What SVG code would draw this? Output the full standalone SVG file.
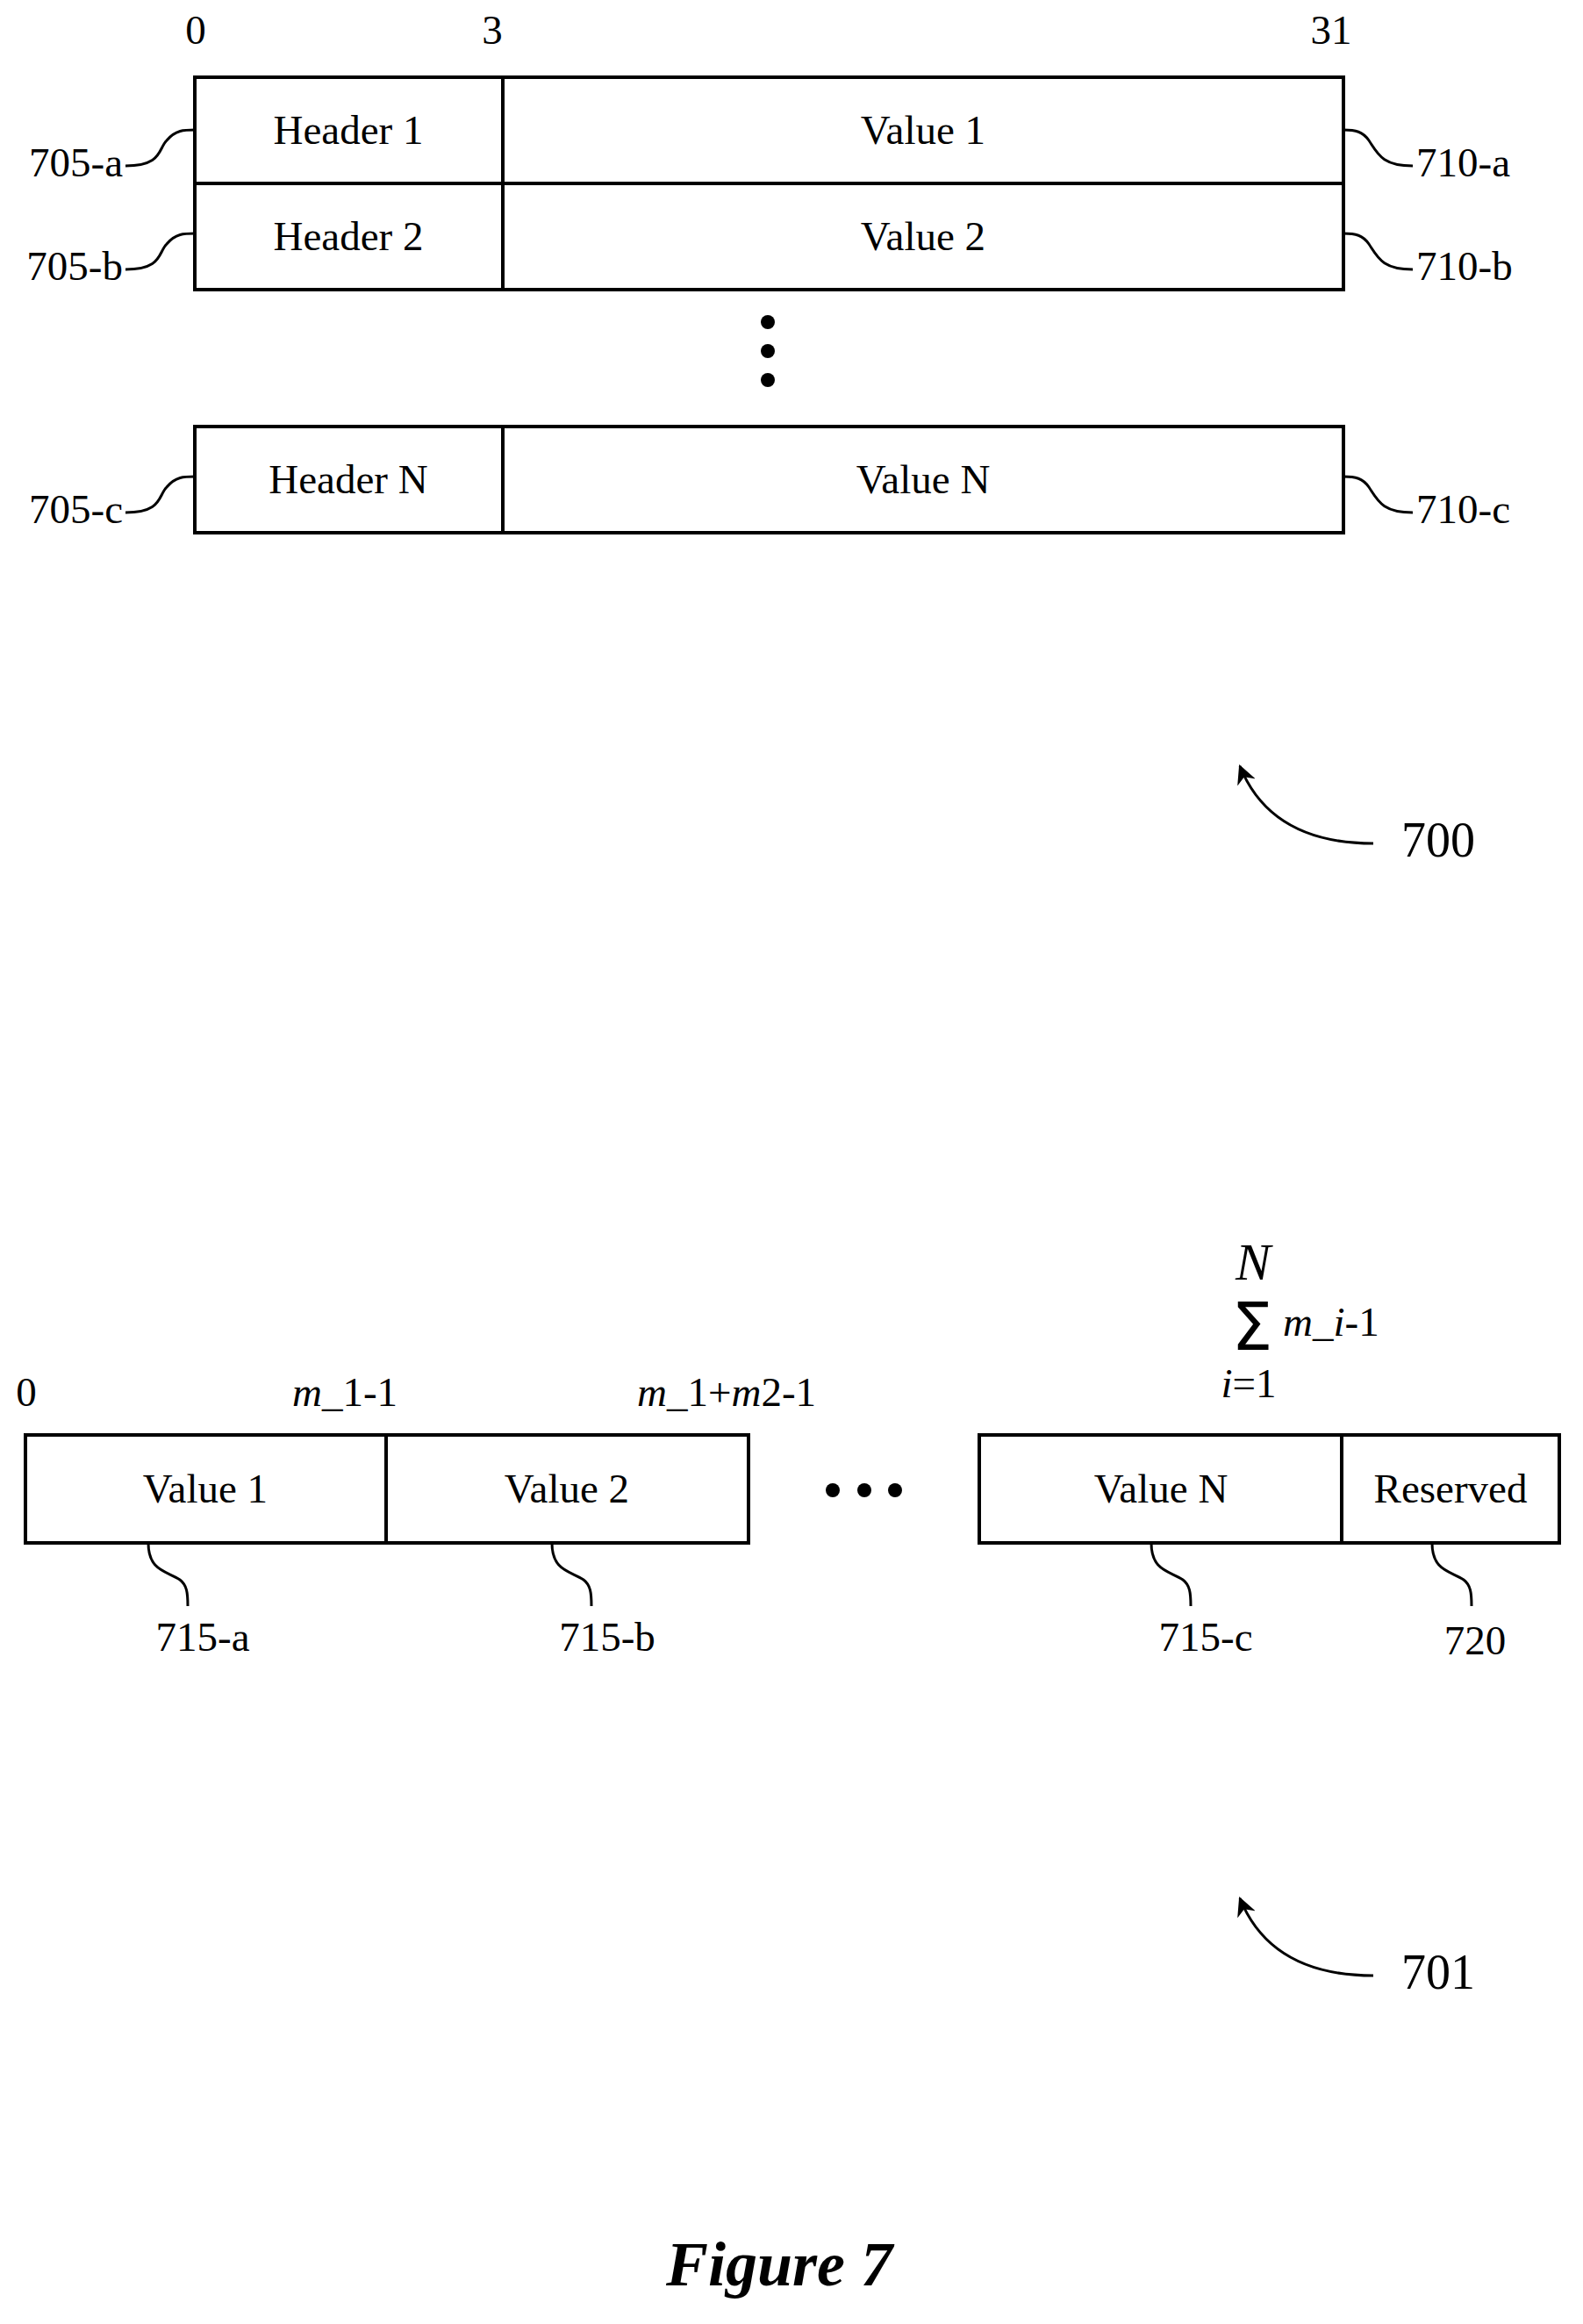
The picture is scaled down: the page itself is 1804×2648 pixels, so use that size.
<svg xmlns="http://www.w3.org/2000/svg" width="1804" height="2648" viewBox="0 0 1804 2648">
<defs>
<style>
text{font-family:"Liberation Serif",serif;font-size:47px;fill:#000}
.c{text-anchor:middle}
.b{fill:#fff;stroke:#000;stroke-width:4}
.l{fill:none;stroke:#000;stroke-width:3}
.ref{font-size:56px}
</style>
<marker id="ah" viewBox="0 0 10 10" refX="9" refY="5" markerWidth="22" markerHeight="22" orient="auto-start-reverse" markerUnits="userSpaceOnUse"><path d="M0,0L10,5L0,10L3,5Z"/></marker>
</defs>
<rect width="1804" height="2648" fill="#fff"/>
<text x="223" y="50" class="c">0</text><text x="561" y="50" class="c">3</text><text x="1517" y="50" class="c">31</text>
<g id="row1"><rect class="b" x="222" y="88" width="351" height="121"/><rect class="b" x="573" y="88" width="958" height="121"/><text x="397" y="164" class="c">Header 1</text><text x="1052" y="164" class="c">Value 1</text></g>
<g id="row2"><rect class="b" x="222" y="209" width="351" height="121"/><rect class="b" x="573" y="209" width="958" height="121"/><text x="397" y="285" class="c">Header 2</text><text x="1052" y="285" class="c">Value 2</text></g>
<g id="rowN"><rect class="b" x="222" y="486" width="351" height="121"/><rect class="b" x="573" y="486" width="958" height="121"/><text x="397" y="562" class="c">Header N</text><text x="1052" y="562" class="c">Value N</text></g>
<g id="vdots"><circle cx="875" cy="367" r="8"/><circle cx="875" cy="400" r="8"/><circle cx="875" cy="433" r="8"/></g>
<g id="connectors">
<path class="l" d="M143,189 C185,189 180,170 190,160 C200,148 210,148 222,148"/>
<path class="l" d="M143,307 C185,307 180,288 190,278 C200,266 210,266 222,266"/>
<path class="l" d="M143,584 C185,584 180,565 190,555 C200,543 210,543 222,543"/>
<path class="l" d="M1531,148 C1545,148 1553,150 1560,160 C1570,175 1575,189 1610,189"/>
<path class="l" d="M1531,266 C1545,266 1553,268 1560,278 C1570,293 1575,307 1610,307"/>
<path class="l" d="M1531,543 C1545,543 1553,545 1560,555 C1570,570 1575,584 1610,584"/>
<path class="l" d="M1565,961 C1500,961 1440,940 1413,873" marker-end="url(#ah)"/>
<path class="l" d="M1565,2251 C1500,2251 1440,2230 1413,2163" marker-end="url(#ah)"/>
<path class="l" d="M169,1758 C169,1790 190,1790 205,1800 C213,1806 214,1815 214,1830"/>
<path class="l" d="M629,1758 C629,1790 650,1790 665,1800 C673,1806 674,1815 674,1830"/>
<path class="l" d="M1312,1758 C1312,1790 1333,1790 1348,1800 C1356,1806 1357,1815 1357,1830"/>
<path class="l" d="M1632,1758 C1632,1790 1653,1790 1668,1800 C1676,1806 1677,1815 1677,1830"/>
</g>
<text x="140" y="201" text-anchor="end">705-a</text><text x="140" y="319" text-anchor="end">705-b</text><text x="140" y="596" text-anchor="end">705-c</text>
<text x="1614" y="201">710-a</text><text x="1614" y="319">710-b</text><text x="1614" y="596">710-c</text>
<text x="1597" y="976" class="ref">700</text>
<text x="30" y="1602" class="c">0</text>
<text x="393" y="1602" class="c"><tspan font-style="italic">m</tspan>_1-1</text>
<text x="828" y="1602" class="c"><tspan font-style="italic">m</tspan>_1+<tspan font-style="italic">m</tspan>2-1</text>
<text x="1428" y="1458" class="c" style="font-style:italic;font-size:60px">N</text>
<text x="1427" y="1538" class="c" style="font-size:74px;font-family:'DejaVu Sans',sans-serif">Σ</text>
<text x="1462" y="1522"><tspan font-style="italic">m</tspan>_<tspan font-style="italic">i</tspan>-1</text>
<text x="1423" y="1592" class="c"><tspan font-style="italic">i</tspan>=1</text>
<g id="b1"><rect class="b" x="29" y="1635" width="411" height="123"/><text x="234" y="1712" class="c">Value 1</text></g>
<g id="b2"><rect class="b" x="440" y="1635" width="413" height="123"/><text x="646" y="1712" class="c">Value 2</text></g>
<g id="bN"><rect class="b" x="1116" y="1635" width="413" height="123"/><text x="1323" y="1712" class="c">Value N</text></g>
<g id="bR"><rect class="b" x="1529" y="1635" width="248" height="123"/><text x="1653" y="1712" class="c">Reserved</text></g>
<g id="hdots"><circle cx="949" cy="1698" r="8"/><circle cx="985" cy="1698" r="8"/><circle cx="1020" cy="1698" r="8"/></g>
<text x="231" y="1881" class="c">715-a</text><text x="692" y="1881" class="c">715-b</text><text x="1374" y="1881" class="c">715-c</text><text x="1681" y="1885" class="c">720</text>
<text x="1597" y="2266" class="ref">701</text>
<text x="888" y="2604" class="c" style="font-size:72px;font-weight:bold;font-style:italic">Figure 7</text>
</svg>
